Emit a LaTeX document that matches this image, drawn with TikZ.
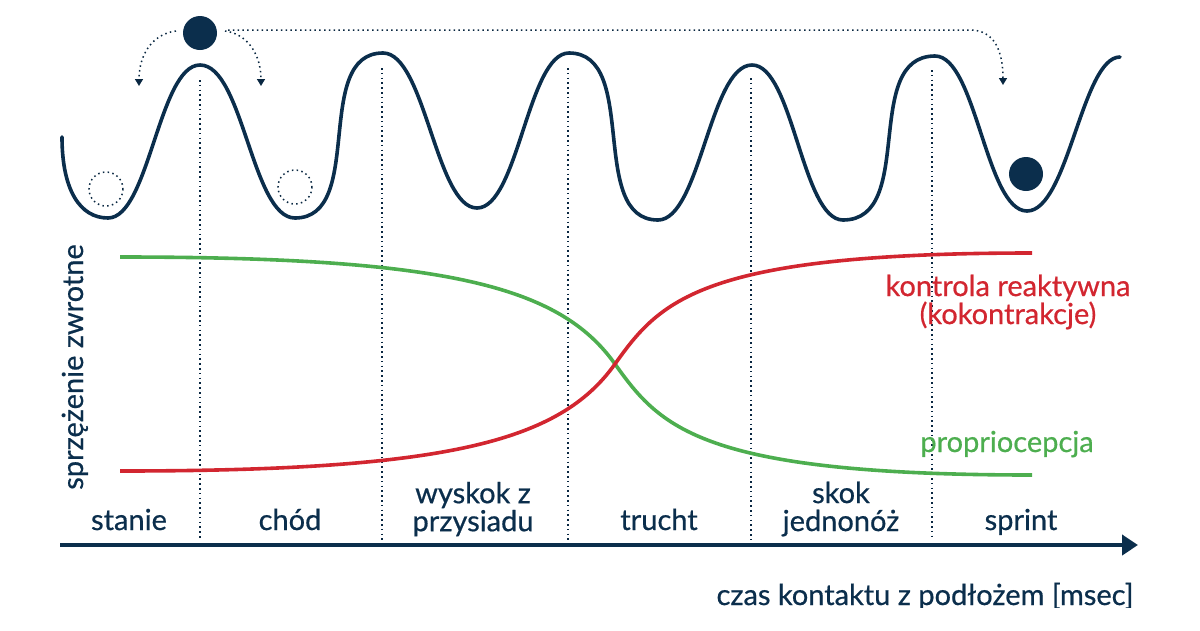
\documentclass[tikz,border=0pt]{standalone}
\usepackage{fontspec}
\setmainfont{Lato}
\usetikzlibrary{arrows.meta}
\definecolor{navy}{HTML}{0B2E4C}
\definecolor{cgreen}{HTML}{4DAE4F}
\definecolor{cred}{HTML}{D22630}
\tikzset{
  wave/.style={draw=navy, line width=3.6pt, line cap=round, line join=round},
  gline/.style={draw=cgreen, line width=3.6pt},
  rline/.style={draw=cred, line width=3.6pt},
  vdot/.style={draw=navy!85!black, line width=1.5pt, dash pattern=on 1.5pt off 3.3pt},
  cdot/.style={draw=navy!85!black, line width=1.5pt, dash pattern=on 1.5pt off 3.3pt},
  arrdot/.style={draw=navy!85!black, line width=1.5pt, dash pattern=on 1.5pt off 3.3pt, -{Triangle[width=8pt,length=7pt]}},
  ball/.style={fill=navy},
  lbl/.style={text=navy, font=\fontsize{29}{28}\selectfont\addfontfeature{FakeBold=0.6}, inner sep=0pt, align=center},
  axis/.style={draw=navy, line width=4pt, -{Triangle[width=20pt,length=16pt]}}
}
\begin{document}
\begin{tikzpicture}[x=1pt,y=-1pt]
\useasboundingbox (0,0) rectangle (1200,630);
% wave
\draw[wave] (62,137) .. controls (62,190) and (80,218) .. (108,218)
 .. controls (149,218) and (159,65) .. (200,65)
 .. controls (243,65) and (252,218) .. (295,218)
 .. controls (366,218) and (312,53) .. (383,53)
 .. controls (425,53) and (436,208) .. (477,208)
 .. controls (518,208) and (528,53) .. (569,53)
 .. controls (640,53) and (587,220) .. (658,220)
 .. controls (700,220) and (710,65) .. (752,65)
 .. controls (793,65) and (802,220) .. (843,220)
 .. controls (917,220) and (861,56) .. (935,56)
 .. controls (976,56) and (986,211) .. (1027,211)
 .. controls (1068,211) and (1082,57) .. (1120,57);
% vertical dotted separators
\draw[vdot] (200,80) -- (200,540);
\draw[vdot] (382,68) -- (382,540);
\draw[vdot] (568,68) -- (568,540);
\draw[vdot] (751,78) -- (751,540);
\draw[vdot] (932,70) -- (932,540);
% dotted circles
\draw[cdot] (106,189) circle[radius=17];
\draw[cdot] (295,187) circle[radius=17];
% balls
\fill[ball] (200,33) circle[radius=17];
\fill[ball] (1026,174) circle[radius=17];
% dotted arrows
\coordinate (tl) at (176,31);
\coordinate (tr) at (225,31);
\coordinate (ttop) at (228,30);
\coordinate (al) at (139,86);
\coordinate (ar) at (261,86);
\coordinate (aend) at (1003,85);
\draw[arrdot] (tl) .. controls (152,34) and (139,55) .. (al);
\draw[arrdot] (tr) .. controls (248,34) and (261,55) .. (ar);
\draw[arrdot] (ttop) -- (970,30) .. controls (995,30) and (1003,52) .. (aend);
% curves
\draw[gline] (120,257) .. controls (450,257) and (560,287) .. (615,364) .. controls (660,427) and (700,475) .. (1032,475);
\draw[rline] (120,471) .. controls (450,471) and (560,441) .. (615,364) .. controls (660,301) and (700,253) .. (1032,253);
% curve labels
\node[lbl, text=cred] (kr) at (1008,302) {kontrola reaktywna\\(kokontrakcje)};
\node[lbl, text=cgreen, anchor=base] (pp) at (1007,452) {propriocepcja};
% y label
\node[lbl, rotate=90, anchor=base] (yl) at (83,367) {sprzężenie zwrotne};
% axis
\coordinate (ax0) at (60,545);
\coordinate (ax1) at (1138,545);
\draw[axis] (ax0) -- (ax1);
% activity labels
\node[lbl, anchor=base] (l1) at (129,530) {stanie};
\node[lbl, anchor=base] (l2) at (290,530) {chód};
\node[lbl] (l3) at (473,509) {wyskok z\\przysiadu};
\node[lbl, anchor=base] (l4) at (659,530) {trucht};
\node[lbl] (l5) at (841,509) {skok\\jednonóż};
\node[lbl, anchor=base] (l6) at (1021,530) {sprint};
% x label (clipped as in the reference)
\begin{scope}
\clip (0,0) rectangle (1200,607);
\node[lbl, anchor=base] (xl) at (925,605) {czas kontaktu z podłożem [msec]};
\end{scope}
\end{tikzpicture}
\end{document}
